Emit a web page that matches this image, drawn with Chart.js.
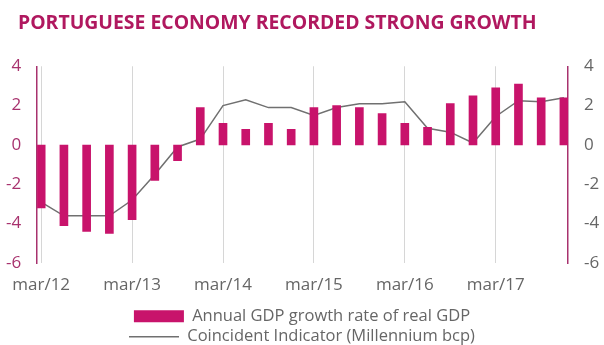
<!DOCTYPE html>
<html>
<head>
<meta charset="utf-8">
<title>Portuguese economy recorded strong growth</title>
<script src="https://cdn.jsdelivr.net/npm/chart.js@4/dist/chart.umd.min.js"></script>
<style>
  html, body { margin: 0; padding: 0; background: #fff; }
  #wrap { width: 604px; height: 345px; }
</style>
</head>
<body>
<div id="wrap"><canvas id="gdpChart" width="604" height="345"></canvas></div>
<script>
// quarterly data, mar/12 .. dec/17
const quarters = [
    'mar/12', 'jun/12', 'sep/12', 'dec/12',
    'mar/13', 'jun/13', 'sep/13', 'dec/13',
    'mar/14', 'jun/14', 'sep/14', 'dec/14',
    'mar/15', 'jun/15', 'sep/15', 'dec/15',
    'mar/16', 'jun/16', 'sep/16', 'dec/16',
    'mar/17', 'jun/17', 'sep/17', 'dec/17'
];
const gdpGrowth = [
    -3.2, -4.1, -4.4, -4.5,
    -3.8, -1.8, -0.8, 1.9,
    1.1, 0.8, 1.1, 0.8,
    1.9, 2.0, 1.9, 1.6,
    1.1, 0.9, 2.1, 2.5,
    2.9, 3.1, 2.4, 2.4
];
const coincident = [
    -2.9, -3.6, -3.6, -3.6,
    -2.8, -1.5, -0.1, 0.3,
    2.0, 2.3, 1.9, 1.9,
    1.5, 1.9, 2.1, 2.1,
    2.2, 0.85, 0.65, 0.1,
    1.45, 2.25, 2.2, 2.4
];
const xTickLabels = ['mar/12', 'mar/13', 'mar/14', 'mar/15', 'mar/16', 'mar/17'];
const yTicks = [-6, -4, -2, 0, 2, 4];

const MAGENTA = '#c8136b';
const PLUM = '#a8326e';
const GREY = '#666666';
const FONT = 'Open Sans';

// the title starts a bit right of the canvas edge
const titleIndent = {
    id: 'titleIndent',
    afterLayout(chart) {
        if (chart.titleBlock) chart.titleBlock.left = 18;
    }
};

const ctx = document.getElementById('gdpChart').getContext('2d');

new Chart(ctx, {
    type: 'bar',
    data: {
        datasets: [{
            label: 'Annual GDP growth rate of real GDP',
            data: gdpGrowth.map((v, i) => ({ x: i, y: v })),
            backgroundColor: MAGENTA,
            borderWidth: 0,
            barThickness: 8,
            pointStyle: 'rect',
            yAxisID: 'y',
            order: 0
        }, {
            type: 'line',
            label: 'Coincident Indicator (Millennium bcp)',
            data: coincident.map((v, i) => ({ x: i, y: v })),
            borderColor: '#707070',
            borderWidth: 1.5,
            pointRadius: 0,
            pointStyle: 'line',
            tension: 0,
            yAxisID: 'y',
            order: 1
        }]
    },
    options: {
        responsive: false,
        animation: false,
        layout: {
            padding: { left: 0, right: 0, top: 0, bottom: -10 }
        },
        scales: {
            x: {
                type: 'linear',
                offset: false,
                min: -0.18,
                max: quarters.length - 1 + 0.18,
                afterBuildTicks: (scale) => {
                    scale.ticks = xTickLabels.map(l => ({ value: quarters.indexOf(l) }));
                },
                afterFit: (scale) => { scale.height = 41; },
                ticks: {
                    callback: (v) => quarters[v],
                    color: GREY,
                    font: { family: FONT, size: 17 },
                    padding: 12,
                    maxRotation: 0,
                    autoSkip: false
                },
                grid: { offset: false, color: '#d6d6d6', lineWidth: 1, drawTicks: false },
                border: { display: false }
            },
            y: {
                position: 'left',
                min: yTicks[0],
                max: yTicks[yTicks.length - 1],
                afterBuildTicks: (scale) => { scale.ticks = yTicks.map(v => ({ value: v })); },
                afterFit: (scale) => { scale.width = 37; },
                ticks: {
                    color: PLUM,
                    font: { family: FONT, size: 17 },
                    padding: 16
                },
                grid: { display: false, drawTicks: false },
                border: { display: true, color: PLUM, width: 1.5 }
            },
            y2: {
                position: 'right',
                min: yTicks[0],
                max: yTicks[yTicks.length - 1],
                afterBuildTicks: (scale) => { scale.ticks = yTicks.map(v => ({ value: v })); },
                afterFit: (scale) => { scale.width = 36; },
                ticks: {
                    color: GREY,
                    font: { family: FONT, size: 17 },
                    padding: 16
                },
                grid: { display: false, drawTicks: false },
                border: { display: true, color: PLUM, width: 1.5 }
            }
        },
        plugins: {
            title: {
                display: true,
                text: 'PORTUGUESE ECONOMY RECORDED STRONG GROWTH',
                align: 'start',
                color: '#b0185f',
                font: { family: FONT, size: 19.4, weight: 'bold' },
                padding: { top: 12, bottom: 31 }
            },
            legend: {
                position: 'bottom',
                labels: {
                    usePointStyle: true,
                    pointStyleWidth: 50,
                    boxHeight: 12,
                    color: GREY,
                    font: { family: FONT, size: 16.5 },
                    padding: 4
                }
            },
            tooltip: { enabled: false }
        }
    },
    plugins: [titleIndent]
});
</script>
</body>
</html>
